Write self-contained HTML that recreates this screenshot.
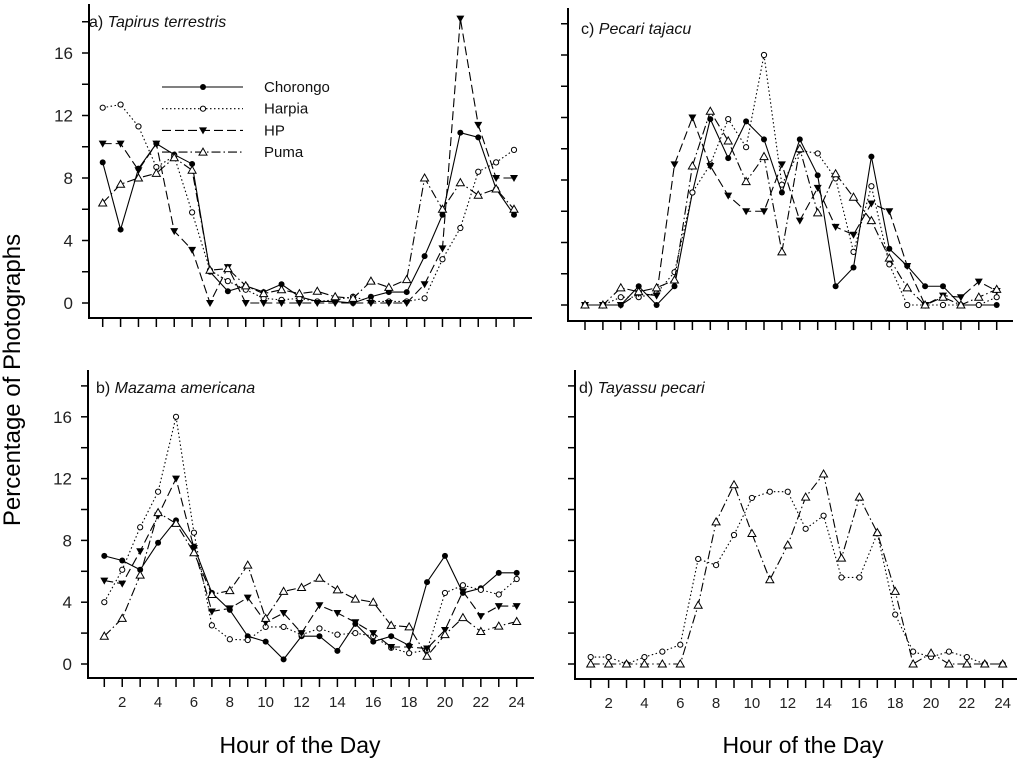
<!DOCTYPE html>
<html><head><meta charset="utf-8"><style>
body{margin:0;background:#fff;}
svg{display:block;font-family:"Liberation Sans",Arial,sans-serif;}
</style></head><body>
<svg id="chart" width="1024" height="760" viewBox="0 0 1024 760">
<text x="20" y="380" font-size="24" text-anchor="middle" transform="rotate(-90 20 380)">Percentage of Photographs</text>
<text x="300" y="753" font-size="23" text-anchor="middle">Hour of the Day</text>
<text x="803" y="753" font-size="23" text-anchor="middle">Hour of the Day</text>
</svg>
<script>
const hours = [1,2,3,4,5,6,7,8,9,10,11,12,13,14,15,16,17,18,19,20,21,22,23,24];
const yTicks = [0,2,4,6,8,10,12,14,16,18];
const yTickLabels = ["0","","4","","8","","12","","16",""];
const xTickLabels = ["","2","","4","","6","","8","","10","","12","","14","","16","","18","","20","","22","","24"];
const seriesNames = ["Chorongo","Harpia","HP","Puma"];

const aChorongo = [9.0,4.7,8.6,10.2,9.5,8.9,2.0,0.75,1.1,0.7,1.2,0.4,0.1,0.1,0,0.4,0.7,0.7,3.0,5.65,10.9,10.6,7.3,5.65];
const aHarpia = [12.5,12.7,11.3,8.7,9.4,5.8,2.1,1.4,0.85,0.3,0.2,0.3,0.1,0.2,0.4,0.1,0.1,0.1,0.3,2.8,4.8,8.4,9.0,9.8];
const aHP = [10.2,10.2,8.5,10.2,4.6,3.4,0,2.3,0,0,0,0,0,0,0,0,0,0,1.2,3.5,18.2,11.4,8.0,8.0];
const aPuma = [6.4,7.6,8.0,8.3,9.3,8.5,2.1,2.2,1.1,0.6,0.85,0.6,0.75,0.4,0.3,1.4,1.0,1.5,8.0,6.0,7.7,6.9,7.3,6.0];

const cChorongo = [0,0,0,1.2,0,1.2,7.2,11.9,9.4,11.75,10.6,7.2,10.6,8.3,1.2,2.4,9.5,3.6,2.5,1.2,1.2,0,0,0];
const cHarpia = [0,0,0.5,0.5,0.75,2.1,7.2,9.0,11.9,10.1,16.0,7.7,9.9,9.7,8.1,3.4,7.6,2.6,0,0,0,0,0,0.5];
const cHP = [0,0,0,0.75,0.6,9.0,12.0,8.9,7.0,6.0,6.0,9.0,5.4,7.5,5.0,4.5,6.5,6.0,2.5,0,0.6,0.5,1.5,0.9];
const cPuma = [0,0,1.1,0.85,1.1,1.6,8.9,12.4,10.5,7.9,9.5,3.4,10.0,5.9,8.4,6.9,5.4,3.0,1.1,0,0.5,0,0.5,1.0];

const bChorongo = [7.0,6.7,6.1,7.85,9.3,7.6,4.6,3.5,1.8,1.45,0.3,1.8,1.8,0.85,2.6,1.45,1.8,1.2,5.3,7.0,4.6,4.9,5.9,5.9];
const bHarpia = [4.0,6.1,8.85,11.15,16.0,8.5,2.5,1.6,1.55,2.4,2.4,1.9,2.3,1.9,2.0,1.8,1.05,0.7,0.9,4.6,5.1,4.8,4.5,5.5];
const bHP = [5.4,5.2,7.3,9.6,12.0,7.5,3.4,3.6,4.3,2.7,3.3,2.0,3.8,3.3,2.7,2.0,1.1,1.1,1.0,2.2,4.7,3.1,3.75,3.75];
const bPuma = [1.8,2.95,5.75,9.8,9.1,7.2,4.5,4.75,6.4,2.95,4.7,4.95,5.55,4.8,4.2,4.0,2.5,2.4,0.5,1.9,3.0,2.1,2.45,2.75];

const dHarpia = [0.45,0.45,0,0.45,0.8,1.25,6.8,6.4,8.35,10.75,11.15,11.15,8.75,9.6,5.6,5.6,8.45,3.2,0.8,0.45,0.8,0.45,0,0];
const dPuma = [0,0,0,0,0,0,3.8,9.2,11.6,8.45,5.45,7.7,10.8,12.3,6.85,10.8,8.5,4.7,0,0.7,0,0,0,0];

const NS="http://www.w3.org/2000/svg";
const svg=document.getElementById('chart');
function mk(tag,attrs,parent){const e=document.createElementNS(NS,tag);for(const k in attrs)e.setAttribute(k,attrs[k]);(parent||svg).appendChild(e);return e;}
const styles={
 Chorongo:{dash:"",marker:"dot"},
 Harpia:{dash:"1.5,2.5",marker:"ocircle"},
 HP:{dash:"9,4",marker:"tdown"},
 Puma:{dash:"9,3,1.5,3",marker:"tup"}
};
function marker(g,type,x,y){
 let m;
 if(type==="dot") m=mk('circle',{cx:x,cy:y,r:3,fill:'#000'},g);
 else if(type==="ocircle") m=mk('circle',{cx:x,cy:y,r:2.6,fill:'#fff',stroke:'#000','stroke-width':1},g);
 else if(type==="tdown") m=mk('polygon',{points:`${x-4},${y-3} ${x+4},${y-3} ${x},${y+4}`,fill:'#000'},g);
 else m=mk('polygon',{points:`${x-4},${y+3} ${x+4},${y+3} ${x},${y-4}`,fill:'#fff',stroke:'#000','stroke-width':1},g);
 
 
}
function panel(p){
 const g=mk('g',{});
 
 
 const xs=h=>p.x1+(h-1)*(p.x24-p.x1)/23;
 const ys=v=>p.y0-v*p.ppu;
 mk('line',{x1:p.ax,y1:p.top,x2:p.ax,y2:p.base,stroke:'#000','stroke-width':2},g);
 mk('line',{x1:p.ax-1,y1:p.base,x2:p.right,y2:p.base,stroke:'#000','stroke-width':2},g);
 yTicks.forEach((t,i)=>{
  const y=ys(t);
  mk('line',{x1:p.ax-7,y1:y,x2:p.ax,y2:y,stroke:'#000','stroke-width':1.5},g);
  if(p.labels&&yTickLabels[i]){
   const tx=mk('text',{x:p.ax-16,y:y+6,'font-size':17,'text-anchor':'end',fill:'#222'},g);
   tx.textContent=yTickLabels[i];
   
   
  }
 });
 hours.forEach((h,i)=>{
  const x=xs(h);
  mk('line',{x1:x,y1:p.base,x2:x,y2:p.base+9,stroke:'#000','stroke-width':1.5},g);
  if(p.xl&&xTickLabels[i]){
   const tx=mk('text',{x:x,y:p.base+29,'font-size':15,'text-anchor':'middle',fill:'#222'},g);
   tx.textContent=xTickLabels[i];
   
   
  }
 });
 const t=mk('text',{x:p.tx,y:p.ty,'font-size':16,fill:'#111'},g);
 
 
 const t1=mk('tspan',{},t);t1.textContent=p.letter+' ';
 const t2=mk('tspan',{'font-style':'italic'},t);t2.textContent=p.species;
 p.series.forEach(s=>{
  const st=styles[s.name];
  const sg=mk('g',{},g);
  
  
  const pts=s.data.map((v,i)=>xs(hours[i])+','+ys(v)).join(' ');
  const pl=mk('polyline',{points:pts,fill:'none',stroke:'#000','stroke-width':1.1,'stroke-dasharray':st.dash},sg);
  
  s.data.forEach((v,i)=>marker(sg,st.marker,xs(hours[i]),ys(v)));
 });
}
panel({id:'a',letter:'a)',species:'Tapirus terrestris',ax:89,top:4,base:318,right:532,x1:102.7,x24:514,y0:303,ppu:15.625,labels:true,xl:false,tx:89,ty:27,
 series:[{name:'Chorongo',data:aChorongo},{name:'Harpia',data:aHarpia},{name:'HP',data:aHP},{name:'Puma',data:aPuma}]});
panel({id:'c',letter:'c)',species:'Pecari tajacu',ax:568,top:8,base:321,right:1013,x1:585,x24:996.7,y0:305,ppu:15.625,labels:false,xl:false,tx:581,ty:34,
 series:[{name:'Chorongo',data:cChorongo},{name:'Harpia',data:cHarpia},{name:'HP',data:cHP},{name:'Puma',data:cPuma}]});
panel({id:'b',letter:'b)',species:'Mazama americana',ax:88,top:370,base:678,right:534,x1:104.3,x24:516.7,y0:664,ppu:15.45,labels:true,xl:true,tx:96,ty:393,
 series:[{name:'Chorongo',data:bChorongo},{name:'Harpia',data:bHarpia},{name:'HP',data:bHP},{name:'Puma',data:bPuma}]});
panel({id:'d',letter:'d)',species:'Tayassu pecari',ax:575,top:370,base:679,right:1017,x1:590.7,x24:1002.7,y0:664,ppu:15.45,labels:false,xl:true,tx:579,ty:393,
 series:[{name:'Harpia',data:dHarpia},{name:'Puma',data:dPuma}]});
// legend
const lg=mk('g',{});


seriesNames.forEach((n,i)=>{
 const y=87+i*21.7;
 const eg=mk('g',{},lg);
 
 
 mk('line',{x1:162,y1:y,x2:243,y2:y,stroke:'#000','stroke-width':1.1,'stroke-dasharray':styles[n].dash},eg);
 marker(eg,styles[n].marker,203,y);
 const t=mk('text',{x:264,y:y+5,'font-size':15,fill:'#111'},eg);
 t.textContent=n;
});
</script>
</body></html>
